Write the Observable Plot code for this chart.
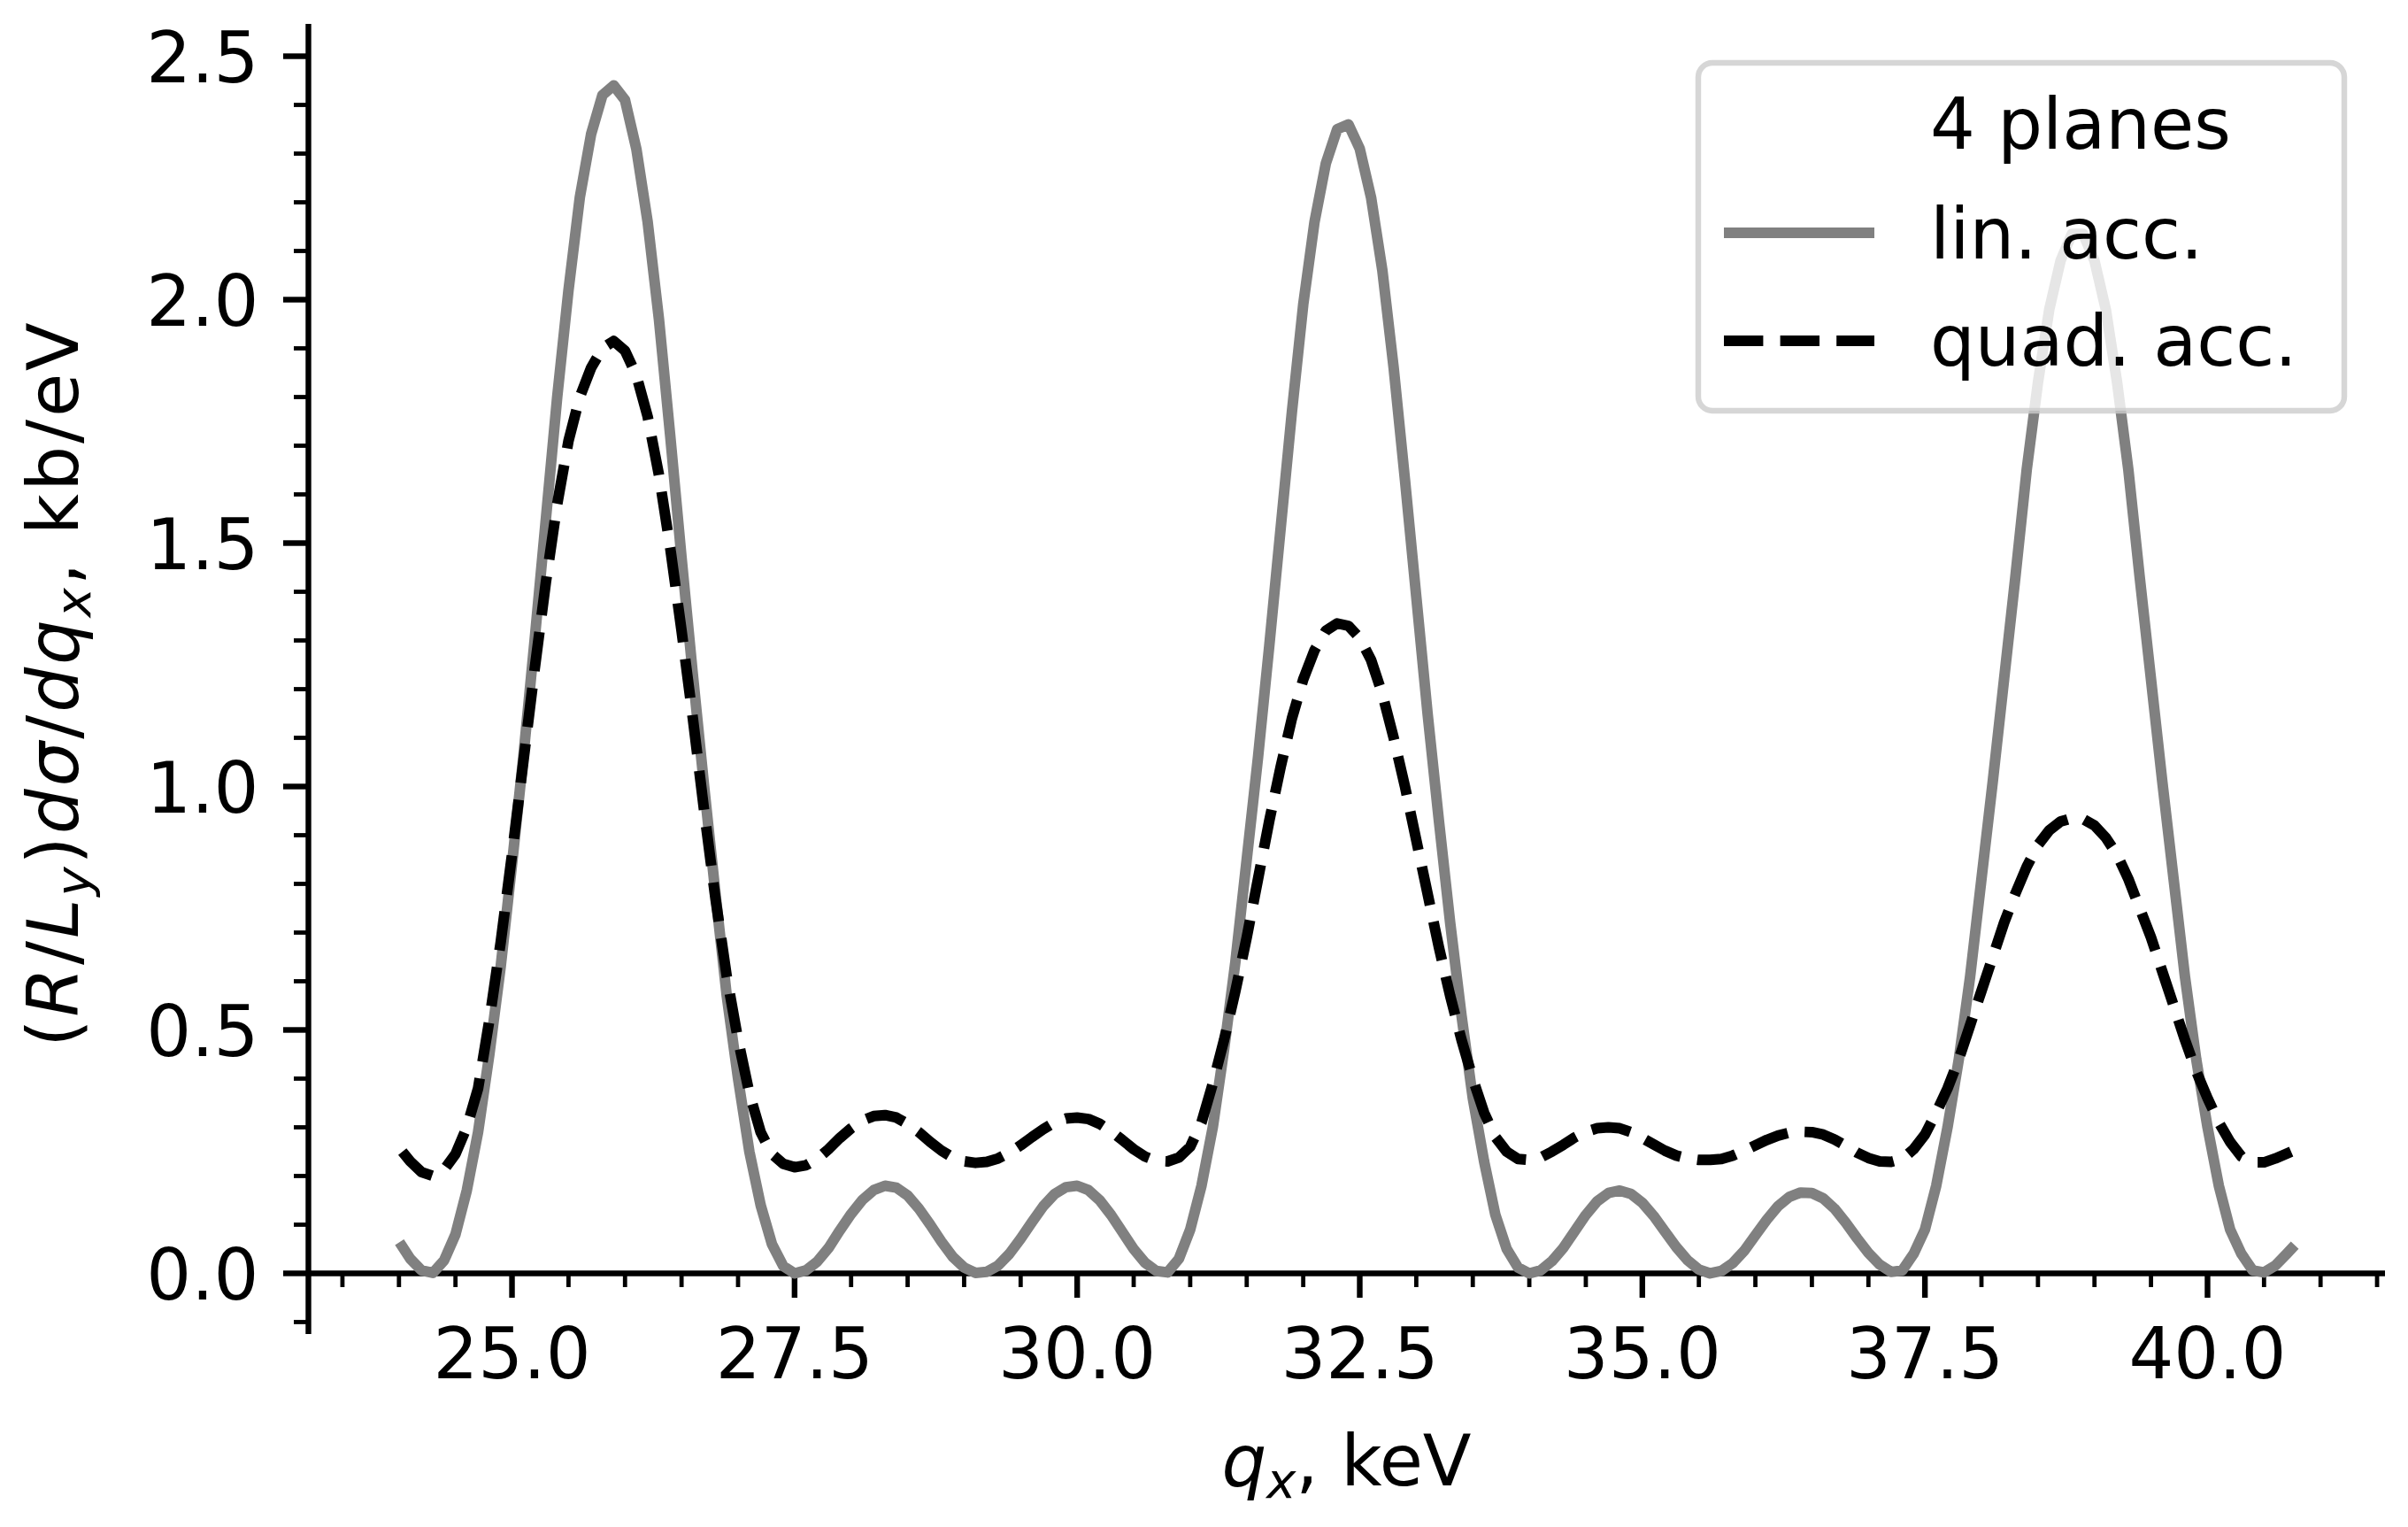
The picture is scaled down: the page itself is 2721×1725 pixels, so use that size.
<!DOCTYPE html>
<html>
<head>
<meta charset="utf-8">
<script src="https://cdn.jsdelivr.net/npm/d3@7"></script>
<script src="https://cdn.jsdelivr.net/npm/@observablehq/plot@0.6"></script>
<style>
  html, body { margin: 0; padding: 0; background: #ffffff; }
  #chart { position: relative; width: 2721px; height: 1725px; }
</style>
</head>
<body>
<div id="chart"></div>
<script>
// ---------------- data ----------------
const qx = [
  24.03, 24.1, 24.2, 24.3, 24.4, 24.5, 24.6, 24.7, 24.8, 24.9,
  25.0, 25.1, 25.2, 25.3, 25.4, 25.5, 25.6, 25.7, 25.8, 25.9,
  26.0, 26.1, 26.2, 26.3, 26.4, 26.5, 26.6, 26.7, 26.8, 26.9,
  27.0, 27.1, 27.2, 27.3, 27.4, 27.5, 27.6, 27.7, 27.8, 27.9,
  28.0, 28.1, 28.2, 28.3, 28.4, 28.5, 28.6, 28.7, 28.8, 28.9,
  29.0, 29.1, 29.2, 29.3, 29.4, 29.5, 29.6, 29.7, 29.8, 29.9,
  30.0, 30.1, 30.2, 30.3, 30.4, 30.5, 30.6, 30.7, 30.8, 30.9,
  31.0, 31.1, 31.2, 31.3, 31.4, 31.5, 31.6, 31.7, 31.8, 31.9,
  32.0, 32.1, 32.2, 32.3, 32.4, 32.5, 32.6, 32.7, 32.8, 32.9,
  33.0, 33.1, 33.2, 33.3, 33.4, 33.5, 33.6, 33.7, 33.8, 33.9,
  34.0, 34.1, 34.2, 34.3, 34.4, 34.5, 34.6, 34.7, 34.8, 34.9,
  35.0, 35.1, 35.2, 35.3, 35.4, 35.5, 35.6, 35.7, 35.8, 35.9,
  36.0, 36.1, 36.2, 36.3, 36.4, 36.5, 36.6, 36.7, 36.8, 36.9,
  37.0, 37.1, 37.2, 37.3, 37.4, 37.5, 37.6, 37.7, 37.8, 37.9,
  38.0, 38.1, 38.2, 38.3, 38.4, 38.5, 38.6, 38.7, 38.8, 38.9,
  39.0, 39.1, 39.2, 39.3, 39.4, 39.5, 39.6, 39.7, 39.8, 39.9,
  40.0, 40.1, 40.2, 40.3, 40.4, 40.5, 40.6, 40.7, 40.74
];

const linAcc = [
  0.055, 0.03, 0.006, 0.001, 0.027, 0.08, 0.17, 0.29, 0.45, 0.63,
  0.84, 1.06, 1.30, 1.55, 1.80, 2.02, 2.21, 2.34, 2.42, 2.44,
  2.41, 2.31, 2.16, 1.96, 1.72, 1.47, 1.23, 1.00, 0.78, 0.57,
  0.40, 0.25, 0.14, 0.06, 0.015, 0.0, 0.006, 0.024, 0.052, 0.088,
  0.122, 0.151, 0.171, 0.18, 0.176, 0.16, 0.133, 0.10, 0.065, 0.034,
  0.012, 0.001, 0.003, 0.016, 0.04, 0.071, 0.105, 0.138, 0.163, 0.177,
  0.18, 0.171, 0.15, 0.12, 0.085, 0.05, 0.022, 0.005, 0.002, 0.03,
  0.09, 0.18, 0.30, 0.46, 0.64, 0.85, 1.06, 1.29, 1.53, 1.77,
  1.99, 2.16, 2.28, 2.35, 2.36, 2.31, 2.21, 2.06, 1.86, 1.63,
  1.39, 1.15, 0.93, 0.72, 0.53, 0.36, 0.23, 0.12, 0.05, 0.012,
  0.0, 0.006, 0.025, 0.052, 0.086, 0.12, 0.148, 0.165, 0.17, 0.163,
  0.145, 0.118, 0.086, 0.054, 0.027, 0.008, 0.0, 0.005, 0.021, 0.046,
  0.078, 0.11, 0.138, 0.157, 0.166, 0.165, 0.154, 0.133, 0.104, 0.072,
  0.042, 0.018, 0.003, 0.006, 0.04, 0.09, 0.18, 0.30, 0.44, 0.61,
  0.81, 1.01, 1.22, 1.43, 1.65, 1.83, 1.98, 2.08, 2.135, 2.135,
  2.08, 1.98, 1.83, 1.65, 1.43, 1.22, 1.01, 0.81, 0.61, 0.44,
  0.30, 0.18, 0.09, 0.04, 0.006, 0.002, 0.016, 0.04, 0.05
];

const quadAcc = [
  0.25, 0.23, 0.208, 0.20, 0.213, 0.245, 0.30, 0.38, 0.52, 0.68,
  0.86, 1.05, 1.24, 1.42, 1.58, 1.71, 1.80, 1.86, 1.90, 1.915,
  1.895, 1.845, 1.76, 1.64, 1.49, 1.32, 1.14, 0.95, 0.77, 0.61,
  0.48, 0.37, 0.29, 0.245, 0.225, 0.218, 0.222, 0.235, 0.255, 0.278,
  0.298, 0.314, 0.323, 0.325, 0.32, 0.307, 0.29, 0.27, 0.252, 0.238,
  0.23, 0.227, 0.229, 0.236, 0.248, 0.263, 0.28, 0.296, 0.31, 0.318,
  0.32, 0.317, 0.307, 0.292, 0.274, 0.255, 0.24, 0.231, 0.23, 0.238,
  0.26, 0.31, 0.39, 0.48, 0.58, 0.69, 0.81, 0.93, 1.04, 1.14,
  1.22, 1.28, 1.32, 1.335, 1.33, 1.305, 1.26, 1.19, 1.10, 1.00,
  0.89, 0.78, 0.67, 0.57, 0.48, 0.40, 0.33, 0.28, 0.25, 0.235,
  0.233, 0.238, 0.25, 0.264, 0.279, 0.291, 0.298, 0.30, 0.298, 0.29,
  0.278, 0.265, 0.252, 0.242, 0.236, 0.233, 0.233, 0.235, 0.242, 0.252,
  0.263, 0.274, 0.283, 0.289, 0.291, 0.29, 0.285, 0.275, 0.262, 0.248,
  0.237, 0.23, 0.229, 0.235, 0.255, 0.285, 0.33, 0.38, 0.44, 0.51,
  0.58, 0.65, 0.72, 0.78, 0.835, 0.88, 0.91, 0.928, 0.935, 0.933,
  0.92, 0.895, 0.86, 0.81, 0.75, 0.69, 0.62, 0.55, 0.48, 0.415,
  0.36, 0.31, 0.27, 0.24, 0.228, 0.228, 0.236, 0.246, 0.25
];

const xMajorTicks = [25, 27.5, 30, 32.5, 35, 37.5, 40];
const xMinorTicks = [23.5, 24, 24.5, 25.5, 26, 26.5, 27, 28, 28.5, 29, 29.5, 30.5, 31, 31.5, 32,
  33, 33.5, 34, 34.5, 35.5, 36, 36.5, 37, 38, 38.5, 39, 39.5, 40.5, 41, 41.5];
const yMajorTicks = [0, 0.5, 1.0, 1.5, 2.0, 2.5];
const yMinorTicks = [-0.1, 0.1, 0.2, 0.3, 0.4, 0.6, 0.7, 0.8, 0.9, 1.1, 1.2, 1.3, 1.4,
  1.6, 1.7, 1.8, 1.9, 2.1, 2.2, 2.3, 2.4];

const seriesNames = ["lin. acc.", "quad. acc."];
const legendTitle = "4 planes";

// ---------------- chart ----------------
const rows = qx.map((q, i) => ({qx: q, lin: linAcc[i], quad: quadAcc[i]}));

const W = 2721, H = 1725;
const xDomain = [23.199, 41.574];
const yDomain = [-0.1255, 2.5655];
const mTop = 27, mBottom = 218, mLeft = 348, mRight = 26;
const plotH = H - mTop - mBottom;
const zeroOffset = plotH * (0 - yDomain[0]) / (yDomain[1] - yDomain[0]); // px from frame bottom to y=0

const fmt = d => d.toFixed(1);
const FONT = "DejaVu Sans";

const svg = Plot.plot({
  width: W,
  height: H,
  marginTop: mTop,
  marginBottom: mBottom,
  marginLeft: mLeft,
  marginRight: mRight,
  style: {fontFamily: FONT, fontSize: "80px", background: "white", color: "black"},
  x: {domain: xDomain},
  y: {domain: yDomain},
  marks: [
    // spines
    Plot.ruleX([xDomain[0]], {stroke: "black", strokeWidth: 6.4}),
    Plot.ruleY([0], {stroke: "black", strokeWidth: 6.4}),
    // y axis ticks + labels
    Plot.axisY(yMajorTicks, {anchor: "left", tickSize: 28, strokeWidth: 6.4, fill: "none", label: null}),
    Plot.axisY(yMinorTicks, {anchor: "left", tickSize: 16, strokeWidth: 4.8, fill: "none", label: null}),
    Plot.axisY(yMajorTicks, {anchor: "left", tickSize: 0, tickPadding: 56, dy: 4, tickFormat: fmt,
      fontSize: 80, label: null}),
    // x axis (at y = 0) ticks + labels
    Plot.axisX(xMajorTicks, {anchor: "bottom", dy: -zeroOffset, tickSize: 28, strokeWidth: 6.4,
      fill: "none", label: null}),
    Plot.axisX(xMinorTicks, {anchor: "bottom", dy: -zeroOffset, tickSize: 16, strokeWidth: 4.8,
      fill: "none", label: null}),
    Plot.axisX(xMajorTicks, {anchor: "bottom", dy: -zeroOffset, tickSize: 0, tickPadding: 62,
      tickFormat: fmt, fontSize: 80, label: null}),
    // curves
    Plot.line(rows, {x: "qx", y: "lin", stroke: "#808080", strokeWidth: 12,
      strokeLinecap: "square", strokeLinejoin: "round"}),
    Plot.line(rows, {x: "qx", y: "quad", stroke: "#000000", strokeWidth: 12,
      strokeDasharray: "44.4,19.2", strokeLinecap: "butt", strokeLinejoin: "round"})
  ]
});

document.getElementById("chart").appendChild(svg);

// ---------------- axis labels (rich text) ----------------
const s = d3.select(svg);

const xl = s.append("text")
  .attr("x", mLeft + (W - mLeft - mRight) / 2)
  .attr("y", 1678)
  .attr("text-anchor", "middle")
  .attr("font-family", FONT)
  .attr("font-size", 80)
  .attr("fill", "black");
xl.append("tspan").attr("font-style", "italic").text("q");
xl.append("tspan").attr("font-style", "italic").attr("font-size", 56).attr("dy", 14).text("x");
xl.append("tspan").attr("dy", -14).text(", keV");

const yl = s.append("text")
  .attr("transform", "translate(88,772) rotate(-90)")
  .attr("text-anchor", "middle")
  .attr("font-family", FONT)
  .attr("font-size", 80)
  .attr("letter-spacing", 3)
  .attr("fill", "black");
yl.append("tspan").text("(");
yl.append("tspan").attr("font-style", "italic").text("R");
yl.append("tspan").text("/");
yl.append("tspan").attr("font-style", "italic").text("L");
yl.append("tspan").attr("font-style", "italic").attr("font-size", 56).attr("dy", 14).text("y");
yl.append("tspan").attr("dy", -14).text(")");
yl.append("tspan").attr("font-style", "italic").text("dσ");
yl.append("tspan").text("/");
yl.append("tspan").attr("font-style", "italic").text("dq");
yl.append("tspan").attr("font-style", "italic").attr("font-size", 56).attr("dy", 14).text("x");
yl.append("tspan").attr("dy", -14).text(", kb/eV");

// ---------------- legend ----------------
const lg = s.append("g")
  .attr("font-family", FONT)
  .attr("font-size", 80)
  .attr("text-anchor", "start")
  .attr("fill", "black");
lg.append("rect")
  .attr("x", 1919).attr("y", 71).attr("width", 730).attr("height", 393)
  .attr("rx", 16).attr("ry", 16)
  .attr("fill", "white").attr("fill-opacity", 0.8)
  .attr("stroke", "#cccccc").attr("stroke-opacity", 0.8).attr("stroke-width", 6.4);
const textX = 2181;
lg.append("text").attr("x", textX).attr("y", 168).attr("text-anchor", "start").text(legendTitle);
lg.append("line").attr("x1", 1948).attr("x2", 2118).attr("y1", 263).attr("y2", 263)
  .attr("stroke", "#808080").attr("stroke-width", 12);
lg.append("text").attr("x", textX).attr("y", 292).attr("text-anchor", "start").text(seriesNames[0]);
lg.append("line").attr("x1", 1948).attr("x2", 2118).attr("y1", 385).attr("y2", 385)
  .attr("stroke", "#000000").attr("stroke-width", 12).attr("stroke-dasharray", "44.4,19.2");
lg.append("text").attr("x", textX).attr("y", 413).attr("text-anchor", "start").text(seriesNames[1]);
</script>
</body>
</html>
